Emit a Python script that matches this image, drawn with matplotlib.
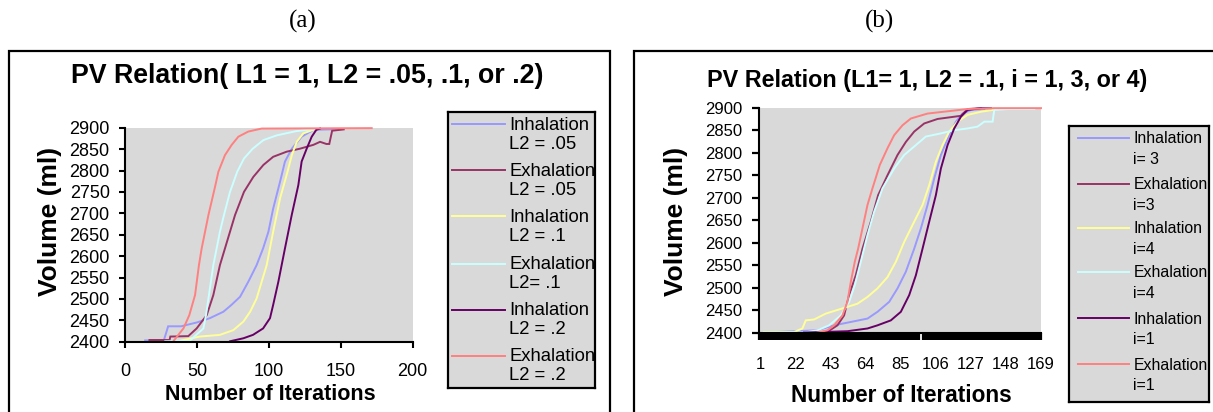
import matplotlib
matplotlib.use("Agg")
import matplotlib.pyplot as plt
from matplotlib.patches import Rectangle

# ---------------- data: panel (a) ----------------
a_inh_05_x = [14, 27, 29, 30, 39, 50, 59, 68.4, 74, 80, 85.7, 91.5, 96, 99.7, 103, 107.8, 111.2, 116, 122.8, 131, 152]
a_inh_05_y = [2403, 2403, 2425, 2436, 2436, 2445, 2455, 2470, 2486, 2505, 2540, 2579, 2618, 2657, 2711, 2774, 2821, 2851, 2879, 2895, 2897]
a_exh_05_x = [17, 31, 31.5, 44, 49.8, 56.8, 61.4, 66, 73, 76.5, 82.7, 89.2, 96.2, 103, 112.4, 121.7, 131, 135.6, 140, 142, 144, 152]
a_exh_05_y = [2404, 2404, 2412, 2413, 2431, 2462, 2509, 2579, 2657, 2696, 2750, 2785, 2813, 2832, 2844, 2851, 2860, 2867, 2862, 2862, 2893, 2896]
a_inh_1_x = [38, 52, 66, 75.3, 82.3, 87, 91.5, 95, 98.5, 103, 107.8, 112.4, 116, 119.4, 124, 131]
a_inh_1_y = [2402, 2412, 2416, 2427, 2447, 2470, 2501, 2540, 2579, 2657, 2735, 2790, 2836, 2867, 2887, 2895]
a_exh_1_x = [28, 45, 54.5, 56.3, 58, 61.4, 66, 68.8, 73, 78, 82.7, 88.8, 96.2, 105.4, 119, 133]
a_exh_1_y = [2401, 2402, 2431, 2462, 2501, 2579, 2657, 2696, 2750, 2797, 2828, 2851, 2871, 2882, 2892, 2897]
a_inh_2_x = [73, 82.3, 89, 96, 100.8, 103, 106.6, 111.2, 115.9, 120.5, 122.8, 126.3, 129.8, 133, 135.6]
a_inh_2_y = [2401, 2408, 2416, 2431, 2455, 2486, 2540, 2618, 2696, 2766, 2821, 2851, 2879, 2895, 2898]
a_exh_2_x = [33.6, 40.6, 44.7, 48.7, 51.4, 53.3, 58, 62.6, 64.9, 69.5, 74.2, 78.8, 85.7, 95, 171.5]
a_exh_2_y = [2401, 2431, 2462, 2509, 2579, 2618, 2696, 2762, 2797, 2836, 2860, 2879, 2891, 2898, 2899]
a_labels = ["Inhalation\nL2 = .05", "Exhalation\nL2 = .05", "Inhalation\nL2 = .1",
            "Exhalation\nL2= .1", "Inhalation\nL2 = .2", "Exhalation\nL2 = .2"]
a_xticks = [0, 50, 100, 150, 200]

# ---------------- data: panel (b) ----------------
b_inh_3_x = [3, 35, 45, 53, 65, 71, 78, 83, 88, 93, 97, 101, 105, 109, 114, 118, 122, 127, 135]
b_inh_3_y = [2401, 2406, 2417, 2423, 2432, 2447, 2469, 2499, 2536, 2587, 2632, 2684, 2743, 2795, 2839, 2869, 2887, 2895, 2897]
b_exh_3_x = [36, 42, 47, 51, 54, 58, 62, 67, 71.4, 77, 83, 88, 93, 99, 107, 117, 121, 125, 133]
b_exh_3_y = [2401, 2405, 2417, 2439, 2484, 2528, 2587, 2647, 2706, 2750, 2795, 2824, 2847, 2865, 2875, 2880, 2882, 2897, 2899]
b_inh_4_x = [3, 21, 26, 28, 33, 40, 46, 53, 59, 65, 71, 77, 82, 87, 93, 98, 102, 106, 110, 114, 119, 125, 133, 140]
b_inh_4_y = [2402, 2402, 2410, 2428, 2430, 2443, 2450, 2458, 2465, 2480, 2499, 2524, 2558, 2602, 2647, 2684, 2728, 2780, 2817, 2847, 2869, 2884, 2891, 2895]
b_exh_4_x = [2, 27, 35, 42, 49, 54, 57.4, 61, 65, 69, 74, 81, 87, 94, 100, 109, 117, 125, 131, 135, 140, 141, 149, 165]
b_exh_4_y = [2401, 2401, 2406, 2417, 2439, 2469, 2506, 2558, 2617, 2669, 2721, 2765, 2795, 2817, 2836, 2843, 2850, 2854, 2858, 2869, 2869, 2895, 2897, 2897]
b_inh_1_x = [27, 53, 65, 71, 79, 85, 90, 94, 98, 102, 106, 109, 113, 117, 121, 125, 133, 139]
b_inh_1_y = [2401, 2404, 2410, 2417, 2428, 2447, 2484, 2528, 2587, 2647, 2706, 2765, 2817, 2854, 2880, 2895, 2899, 2899]
b_exh_1_x = [35, 41, 45, 50, 53, 55, 57.4, 59.4, 62, 65, 68, 72.4, 77, 81, 86, 91, 101, 113, 125, 141, 169]
b_exh_1_y = [2401, 2406, 2417, 2439, 2469, 2513, 2558, 2587, 2632, 2684, 2721, 2773, 2810, 2839, 2861, 2876, 2887, 2892, 2897, 2899, 2899]
b_labels = ["Inhalation\ni= 3", "Exhalation\ni=3", "Inhalation\ni=4",
            "Exhalation\ni=4", "Inhalation\ni=1", "Exhalation\ni=1"]
b_xticks = [1, 22, 43, 64, 85, 106, 127, 148, 169]
n_categories = 169

y_ticks = [2400, 2450, 2500, 2550, 2600, 2650, 2700, 2750, 2800, 2850, 2900]
colors = ["#9999FF", "#993366", "#FFFF99", "#CCFFFF", "#660066", "#FF8080"]

# ---------------- figure ----------------
W, H = 1213, 412
fig = plt.figure(figsize=(W / 100, H / 100), dpi=100)
SANS = "Liberation Sans"
SERIF = "Liberation Serif"
GRAY = "#D9D9D9"


def fx(px):
    return px / W


def fy(py):
    return 1 - py / H


def box(x0, y0, x1, y1):
    return [fx(x0), fy(y1), fx(x1) - fx(x0), fy(y0) - fy(y1)]


# outer frames
fig.patches.append(Rectangle((fx(8.5), fy(430)), fx(610) - fx(8.5), fy(50.5) - fy(430),
                             transform=fig.transFigure, fill=False, ec="black", lw=1.6,
                             clip_on=False))
fig.patches.append(Rectangle((fx(633.5), fy(430)), fx(1230) - fx(633.5), fy(50.5) - fy(430),
                             transform=fig.transFigure, fill=False, ec="black", lw=1.6,
                             clip_on=False))

fig.text(fx(303), fy(21), "(a)", family=SERIF, fontsize=18, ha="center", va="center")
fig.text(fx(880), fy(21), "(b)", family=SERIF, fontsize=18, ha="center", va="center")

# ---------------- panel (a) ----------------
axa = fig.add_axes(box(125, 127.7, 412.7, 341.7))
axa.set_facecolor(GRAY)
a_series = [(a_inh_05_x, a_inh_05_y), (a_exh_05_x, a_exh_05_y), (a_inh_1_x, a_inh_1_y),
            (a_exh_1_x, a_exh_1_y), (a_inh_2_x, a_inh_2_y), (a_exh_2_x, a_exh_2_y)]
for (xs, ys), c in zip(a_series, colors):
    axa.plot(xs, ys, color=c, lw=1.4, clip_on=False, solid_joinstyle="miter")
axa.set_xlim(0, 200)
axa.set_ylim(2400, 2900)
axa.set_xticks(a_xticks)
axa.set_yticks(y_ticks)
for s in ["top", "right"]:
    axa.spines[s].set_visible(False)
for s in ["left", "bottom"]:
    axa.spines[s].set_linewidth(1.5)
axa.tick_params(axis="both", direction="out", length=4.5, width=1.5, labelsize=13)
axa.tick_params(axis="x", pad=10.5)
axa.tick_params(axis="y", pad=6.5)
for lab in axa.get_xticklabels() + axa.get_yticklabels():
    lab.set_family(SANS)

fig.text(fx(307), fy(76), "PV Relation( L1 = 1, L2 = .05, .1, or .2)", family=SANS,
         fontweight="bold", fontsize=19.3, ha="center", va="center")
fig.text(fx(50), fy(221), "Volume (ml)", family=SANS, fontweight="bold", fontsize=19,
         rotation=90, ha="center", va="center")
fig.text(fx(270), fy(395), "Number of Iterations", family=SANS, fontweight="bold",
         fontsize=15.5, ha="center", va="center")

# legend (a)
lga = fig.add_axes(box(448.3, 112.3, 595.3, 387.7))
lga.set_facecolor(GRAY)
lga.set_xlim(448.3, 595.3)
lga.set_ylim(387.7, 112.3)
lga.set_xticks([])
lga.set_yticks([])
for s in lga.spines.values():
    s.set_linewidth(1.6)
a_leg_y = [124, 170, 216, 263.7, 309.7, 355.7]
for yy, c, lab in zip(a_leg_y, colors, a_labels):
    lga.plot([452.3, 505], [yy, yy], color=c, lw=1.4)
    l1, l2 = lab.split("\n")
    lga.text(509.3, yy + 1, l1, family=SANS, fontsize=13.3, ha="left", va="center", clip_on=True)
    lga.text(509.3, yy + 20.3, l2, family=SANS, fontsize=13.3, ha="left", va="center", clip_on=True)

# ---------------- panel (b) ----------------
axb = fig.add_axes(box(759, 107.7, 1041, 333))
axb.set_facecolor(GRAY)
b_series = [(b_inh_3_x, b_inh_3_y), (b_exh_3_x, b_exh_3_y), (b_inh_4_x, b_inh_4_y),
            (b_exh_4_x, b_exh_4_y), (b_inh_1_x, b_inh_1_y), (b_exh_1_x, b_exh_1_y)]
for (xs, ys), c in zip(b_series, colors):
    axb.plot(xs, ys, color=c, lw=1.4, clip_on=False, solid_joinstyle="miter")
axb.set_xlim(0, n_categories)
axb.set_ylim(2400, 2900)
axb.set_xticks(b_xticks)
axb.set_xticks([k for k in range(0, n_categories + 1) if k != 97], minor=True)
axb.set_yticks(y_ticks)
for s in ["top", "right"]:
    axb.spines[s].set_visible(False)
for s in ["left", "bottom"]:
    axb.spines[s].set_linewidth(1.5)
axb.tick_params(axis="both", which="major", direction="out", length=5, width=1.6, labelsize=12)
axb.tick_params(axis="x", which="minor", direction="out", length=5, width=1.6)
axb.tick_params(axis="x", which="major", pad=12)
axb.tick_params(axis="y", pad=7)
for lab in axb.get_xticklabels() + axb.get_yticklabels():
    lab.set_family(SANS)

fig.text(fx(927), fy(81), "PV Relation (L1= 1, L2 = .1, i = 1, 3, or 4)", family=SANS,
         fontweight="bold", fontsize=16.8, ha="center", va="center")
fig.text(fx(676), fy(221), "Volume (ml)", family=SANS, fontweight="bold", fontsize=19,
         rotation=90, ha="center", va="center")
fig.text(fx(901), fy(395), "Number of Iterations", family=SANS, fontweight="bold",
         fontsize=16.3, ha="center", va="center")

# legend (b)
lgb = fig.add_axes(box(1069, 126, 1209.3, 402.3))
lgb.set_facecolor(GRAY)
lgb.set_xlim(1069, 1209.3)
lgb.set_ylim(402.3, 126)
lgb.set_xticks([])
lgb.set_yticks([])
for s in lgb.spines.values():
    s.set_linewidth(1.6)
b_leg_y = [137.7, 183.7, 227.7, 271.7, 318, 364]
for yy, c, lab in zip(b_leg_y, colors, b_labels):
    lgb.plot([1078.3, 1129.3], [yy, yy], color=c, lw=1.4)
    l1, l2 = lab.split("\n")
    lgb.text(1133.3, yy + 1, l1, family=SANS, fontsize=11.4, ha="left", va="center", clip_on=True)
    lgb.text(1133.3, yy + 21.5, l2, family=SANS, fontsize=11.4, ha="left", va="center", clip_on=True)

fig.savefig("out.png", dpi=100)
